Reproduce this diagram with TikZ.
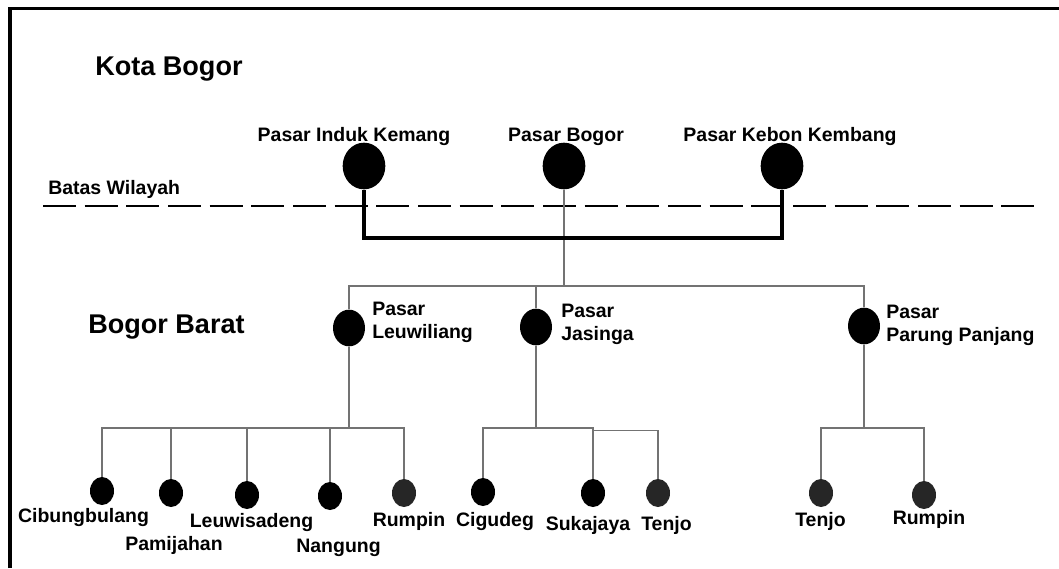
\documentclass[tikz,border=0pt]{standalone}
\usepackage{fontspec}
\setmainfont{Liberation Sans}
\usetikzlibrary{shapes.geometric}

\tikzset{
  pasar/.style={ellipse,fill=black,inner sep=0pt,minimum width=32pt,minimum height=35pt},
  pasarkec/.style={ellipse,fill=black,inner sep=0pt,minimum width=24pt,minimum height=27.5pt},
  desa/.style={ellipse,fill=black,inner sep=0pt,minimum width=18pt,minimum height=21pt},
  desaabu/.style={desa,fill=black!85},
  teks/.style={font=\bfseries\fontsize{14.6}{17.25}\selectfont,inner sep=0pt},
  judul/.style={font=\bfseries\fontsize{20.3}{24}\selectfont,inner sep=0pt},
  garis/.style={draw=black!55,line width=1.2pt},
  tebal/.style={draw=black,line width=2.6pt},
}

\begin{document}
\begin{tikzpicture}[x=0.75pt,y=-0.75pt]
    \useasboundingbox (0,0) rectangle (1059,568);
    % bingkai
    \draw[line width=2.4pt] (10,568) -- (10,8.5) -- (1059,8.5);

    % wilayah
    \node[judul,anchor=base west] (kota) at (95,75) {Kota Bogor};
    \node[judul,anchor=base west] (barat) at (88,333) {Bogor Barat};
    \node[teks,anchor=base west] (batas) at (48,194) {Batas Wilayah};
    \draw[line width=1.5pt,dash pattern=on 24.75pt off 6.5pt] (43,205.7) -- (1040,205.7);

    % pasar kota
    \node[pasar] (ik) at (364,166) {};
    \node[pasar] (pb) at (564,166) {};
    \node[pasar] (kk) at (782,166) {};
    \node[teks,anchor=base] (ikt) at (354,141) {Pasar Induk Kemang};
    \node[teks,anchor=base] (pbt) at (566,141) {Pasar Bogor};
    \node[teks,anchor=base] (kkt) at (790,141) {Pasar Kebon Kembang};

    % pasar kabupaten
    \node[pasarkec] (lw) at (349,328) {};
    \node[pasarkec] (js) at (536,327) {};
    \node[pasarkec] (pp) at (864,326) {};
    \node[teks,anchor=west,align=left] (lwt) at (372,322) {Pasar\\Leuwiliang};
    \node[teks,anchor=west,align=left] (jst) at (561,324) {Pasar\\Jasinga};
    \node[teks,anchor=west,align=left] (ppt) at (886,325) {Pasar\\Parung Panjang};

    % pasar desa
    \node[desa] (cb) at (102,491) {};
    \node[desa] (pj) at (171,493) {};
    \node[desa] (ls) at (247,495) {};
    \node[desa] (ng) at (330,496) {};
    \node[desaabu] (rp) at (404,493) {};
    \node[desa] (cg) at (483,492) {};
    \node[desa] (sk) at (593,493) {};
    \node[desaabu] (tj) at (658,493) {};
    \node[desaabu] (tjb) at (821,493) {};
    \node[desaabu] (rpb) at (924,495) {};

    \node[teks,anchor=base] (cbt) at (83.5,522) {Cibungbulang};
    \node[teks,anchor=base] (pjt) at (174,550) {Pamijahan};
    \node[teks,anchor=base] (lst) at (251.5,527) {Leuwisadeng};
    \node[teks,anchor=base] (ngt) at (338.5,552) {Nangung};
    \node[teks,anchor=base] (rpt) at (409,526) {Rumpin};
    \node[teks,anchor=base] (cgt) at (495,526) {Cigudeg};
    \node[teks,anchor=base] (skt) at (588,530) {Sukajaya};
    \node[teks,anchor=base] (tjt) at (666.5,530) {Tenjo};
    \node[teks,anchor=base] (tjbt) at (820.5,526) {Tenjo};
    \node[teks,anchor=base] (rpbt) at (929,524) {Rumpin};

    % titik cabang
    \coordinate (pbb) at (564,286);
    \coordinate (lwb) at (349,428);
    \coordinate (jsb) at (536,428);
    \coordinate (jsc) at (593,430.5);
    \coordinate (ppb) at (864,428);
    \coordinate (ikb) at (364,238);
    \coordinate (kkb) at (782,238);

    % garis tipis
    \draw[garis] (pb) -- (pbb);
    \draw[garis] (lw) |- (pbb);
    \draw[garis] (js) |- (pbb);
    \draw[garis] (pp) |- (pbb);
    \draw[garis] (lw) -- (lwb);
    \foreach \d in {cb,pj,ls,ng,rp}
        \draw[garis] (\d) |- (lwb);
    \draw[garis] (js) -- (jsb);
    \draw[garis] (cg) |- (jsb);
    \draw[garis] (sk) |- (jsb);
    \draw[garis] (tj) |- (jsc);
    \draw[garis] (pp) -- (ppb);
    \draw[garis] (tjb) |- (ppb);
    \draw[garis] (rpb) |- (ppb);

    % garis tebal
    \draw[tebal] (ik) -- (ikb) -- (kkb) -- (kk);
\end{tikzpicture}
\end{document}
